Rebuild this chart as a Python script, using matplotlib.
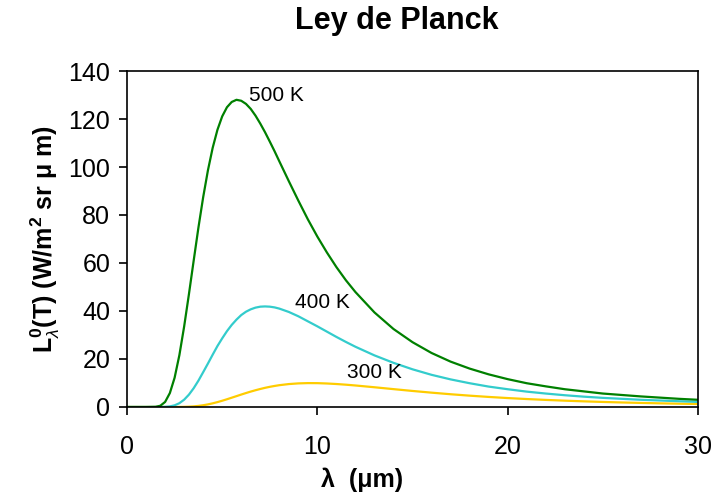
import matplotlib
matplotlib.use('Agg')
import matplotlib.pyplot as plt

plt.rcParams.update({
    'font.family': ['Liberation Sans', 'DejaVu Sans'],
    'mathtext.fontset': 'custom',
    'mathtext.rm': 'Liberation Sans',
    'mathtext.it': 'Liberation Sans:italic',
    'mathtext.bf': 'Liberation Sans:bold',
})

# wavelength (um) and spectral radiance
lam = [0, 0.5, 1, 1.5, 1.75, 2, 2.25, 2.5, 2.75, 3, 3.25, 3.5, 3.75, 4,
       4.25, 4.5, 4.75, 5, 5.25, 5.5, 5.75, 6, 6.25, 6.5, 6.75, 7, 7.25,
       7.5, 7.75, 8, 8.5, 9, 9.5, 10, 10.5, 11, 11.5, 12, 13, 14, 15, 16,
       17, 18, 19, 20, 21, 22, 23, 24, 25, 26, 27, 28, 29, 30]

L_500 = [0, 0, 0, 0.07, 0.52, 2.1, 5.8, 12.2, 21.6, 33.5, 46.9, 60.9, 74.7,
         87.4, 98.6, 108.0, 115.5, 121.1, 124.9, 127.1, 128.0, 127.6, 126.3,
         124.2, 121.4, 118.1, 114.5, 110.6, 106.6, 102.4, 94.1, 86.0, 78.2,
         71.0, 64.4, 58.3, 52.8, 47.9, 39.4, 32.5, 27.0, 22.5, 18.9, 16.0,
         13.6, 11.6, 9.9, 8.6, 7.4, 6.5, 5.6, 5.0, 4.4, 3.9, 3.4, 3.0]

L_400 = [0, 0, 0, 0, 0.01, 0.06, 0.24, 0.69, 1.58, 3.04, 5.13, 7.8, 10.96,
         14.5, 18.1, 21.8, 25.4, 28.6, 31.6, 34.2, 36.4, 38.3, 39.7, 40.7,
         41.4, 41.8, 41.9, 41.8, 41.5, 41.0, 39.6, 37.8, 35.7, 33.6, 31.4,
         29.2, 27.1, 25.1, 21.5, 18.4, 15.7, 13.4, 11.5, 9.9, 8.5, 7.4, 6.4,
         5.6, 4.9, 4.3, 3.8, 3.4, 3.0, 2.7, 2.4, 2.1]

L_300 = [0, 0, 0, 0, 0, 0, 0, 0, 0.02, 0.06, 0.13, 0.25, 0.45, 0.72, 1.08,
         1.52, 2.03, 2.6, 3.22, 3.87, 4.52, 5.18, 5.81, 6.42, 6.98, 7.5,
         7.98, 8.4, 8.76, 9.08, 9.55, 9.83, 9.95, 9.93, 9.79, 9.57, 9.29,
         8.96, 8.22, 7.44, 6.68, 5.97, 5.31, 4.72, 4.19, 3.72, 3.31, 2.95,
         2.63, 2.35, 2.1, 1.88, 1.69, 1.52, 1.37, 1.24]

fig = plt.figure(figsize=(7.28, 4.99), dpi=100)
ax = fig.add_axes([0.1745, 0.1844, 0.7843, 0.6733])

ax.plot(lam, L_300, color='#FFCC00', lw=1.6)
ax.plot(lam, L_400, color='#33CCCC', lw=1.6)
ax.plot(lam, L_500, color='#008000', lw=1.6)

ax.text(6.4, 130, '500 K', fontsize=15, va='center', ha='left')
ax.text(8.8, 43.5, '400 K', fontsize=15, va='center', ha='left')
ax.text(11.55, 14.3, '300 K', fontsize=15, va='center', ha='left')

ax.set_xlim(0, 30)
ax.set_ylim(0, 140)
ax.set_xticks([0, 10, 20, 30])
ax.set_yticks(range(0, 141, 20))
ax.tick_params(direction='out', length=6, width=1.2, labelsize=18, pad=6)
ax.tick_params(axis='x', pad=14)
for s in ax.spines.values():
    s.set_linewidth(1.2)

fig.text(0.545, 0.958, 'Ley de Planck', fontsize=22, fontweight='bold',
         ha='center', va='center')
fig.text(0.497, 0.038, 'λ  (μm)', fontsize=18, fontweight='bold',
         ha='center', va='center')
fig.text(0.062, 0.52,
         r'L$_{λ}^{\mathbf{0}}$(T) (W/m$^{\mathbf{2}}$ sr μ m)',
         fontsize=18, fontweight='bold', rotation=90,
         ha='center', va='center')

fig.savefig('out.png', dpi=100)
